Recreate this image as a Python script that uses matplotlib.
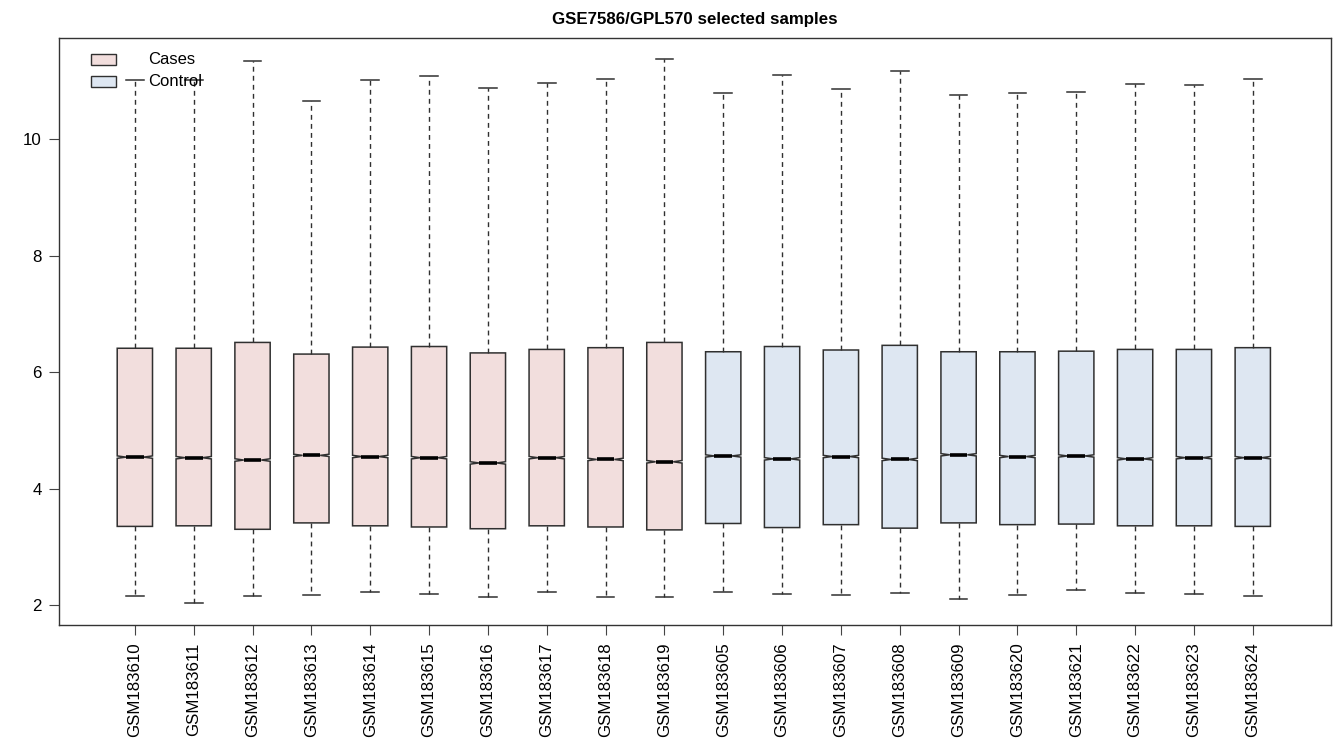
import matplotlib
matplotlib.use("Agg")
import matplotlib.pyplot as plt
from matplotlib.patches import Rectangle
import numpy as np

plt.rcParams["font.family"] = ["Liberation Sans", "DejaVu Sans"]

samples = ['GSM183610', 'GSM183611', 'GSM183612', 'GSM183613', 'GSM183614',
           'GSM183615', 'GSM183616', 'GSM183617', 'GSM183618', 'GSM183619',
           'GSM183605', 'GSM183606', 'GSM183607', 'GSM183608', 'GSM183609',
           'GSM183620', 'GSM183621', 'GSM183622', 'GSM183623', 'GSM183624']
groups = ['Cases'] * 10 + ['Control'] * 10

# log2 expression summaries per array
whisk_hi = [11.02, 11.02, 11.34, 10.66, 11.02, 11.08, 10.88, 10.96, 11.04, 11.38,
            10.79, 11.11, 10.87, 11.17, 10.76, 10.80, 10.82, 10.95, 10.94, 11.03]
q3 = [6.41, 6.41, 6.51, 6.31, 6.43, 6.44, 6.33, 6.39, 6.42, 6.51,
      6.35, 6.44, 6.38, 6.46, 6.35, 6.35, 6.36, 6.39, 6.39, 6.42]
med = [4.54, 4.53, 4.49, 4.57, 4.55, 4.53, 4.44, 4.53, 4.50, 4.46,
       4.56, 4.51, 4.55, 4.50, 4.58, 4.55, 4.56, 4.51, 4.53, 4.53]
q1 = [3.35, 3.36, 3.30, 3.41, 3.36, 3.34, 3.31, 3.36, 3.34, 3.29,
      3.40, 3.33, 3.38, 3.32, 3.41, 3.38, 3.39, 3.36, 3.36, 3.35]
whisk_lo = [2.16, 2.03, 2.16, 2.17, 2.23, 2.19, 2.14, 2.23, 2.13, 2.14,
            2.23, 2.19, 2.18, 2.20, 2.10, 2.18, 2.26, 2.20, 2.19, 2.15]
n_probes = 54675

group_colors = {'Cases': '#F2DEDD', 'Control': '#DEE7F2'}
edge = '#303030'

stats = []
for i in range(len(samples)):
    half = 1.58 * (q3[i] - q1[i]) / np.sqrt(n_probes)
    stats.append(dict(label=samples[i], med=med[i], q1=q1[i], q3=q3[i],
                      whislo=whisk_lo[i], whishi=whisk_hi[i],
                      cilo=med[i] - half, cihi=med[i] + half, fliers=[]))

fig = plt.figure(figsize=(13.4, 7.43), dpi=100)
ax = fig.add_axes([0.044, 0.1588, 0.9493, 0.7901])

positions = np.arange(1, len(samples) + 1)
bp = ax.bxp(stats, positions=positions, widths=0.6, shownotches=True,
            patch_artist=True, showfliers=False,
            boxprops=dict(edgecolor=edge, linewidth=1.1),
            whiskerprops=dict(color=edge, linewidth=1.0, linestyle=(0, (3.5, 3))),
            capprops=dict(color=edge, linewidth=1.1),
            medianprops=dict(color='black', linewidth=2.6, solid_capstyle='butt'))
for patch, g in zip(bp['boxes'], groups):
    patch.set_facecolor(group_colors[g])

ax.set_xlim(-0.29, 21.33)
ax.set_ylim(1.656, 11.74)
ax.set_yticks([2, 4, 6, 8, 10])
ax.set_xticks(positions)
ax.set_xticklabels(samples, rotation=90, fontsize=12.2)
ax.tick_params(axis='y', labelsize=12.2, length=7.5, pad=5, color='#444444')
ax.tick_params(axis='x', length=7.5, pad=5, color='#444444')
for sp in ax.spines.values():
    sp.set_color('#333333')
    sp.set_linewidth(1.0)

ax.set_title('GSE7586/GPL570 selected samples', fontsize=12.2,
             fontweight='bold', pad=10)

# legend keys, no frame
for k, g in enumerate(['Cases', 'Control']):
    y0 = 0.954 - k * 0.0375
    ax.add_patch(Rectangle((0.0252, y0), 0.0196, 0.0187, transform=ax.transAxes,
                           facecolor=group_colors[g], edgecolor=edge,
                           linewidth=1.0, clip_on=False))
    ax.text(0.070, y0 + 0.0093, g, transform=ax.transAxes, fontsize=12,
            va='center', ha='left')

fig.savefig('out.png', dpi=100)
